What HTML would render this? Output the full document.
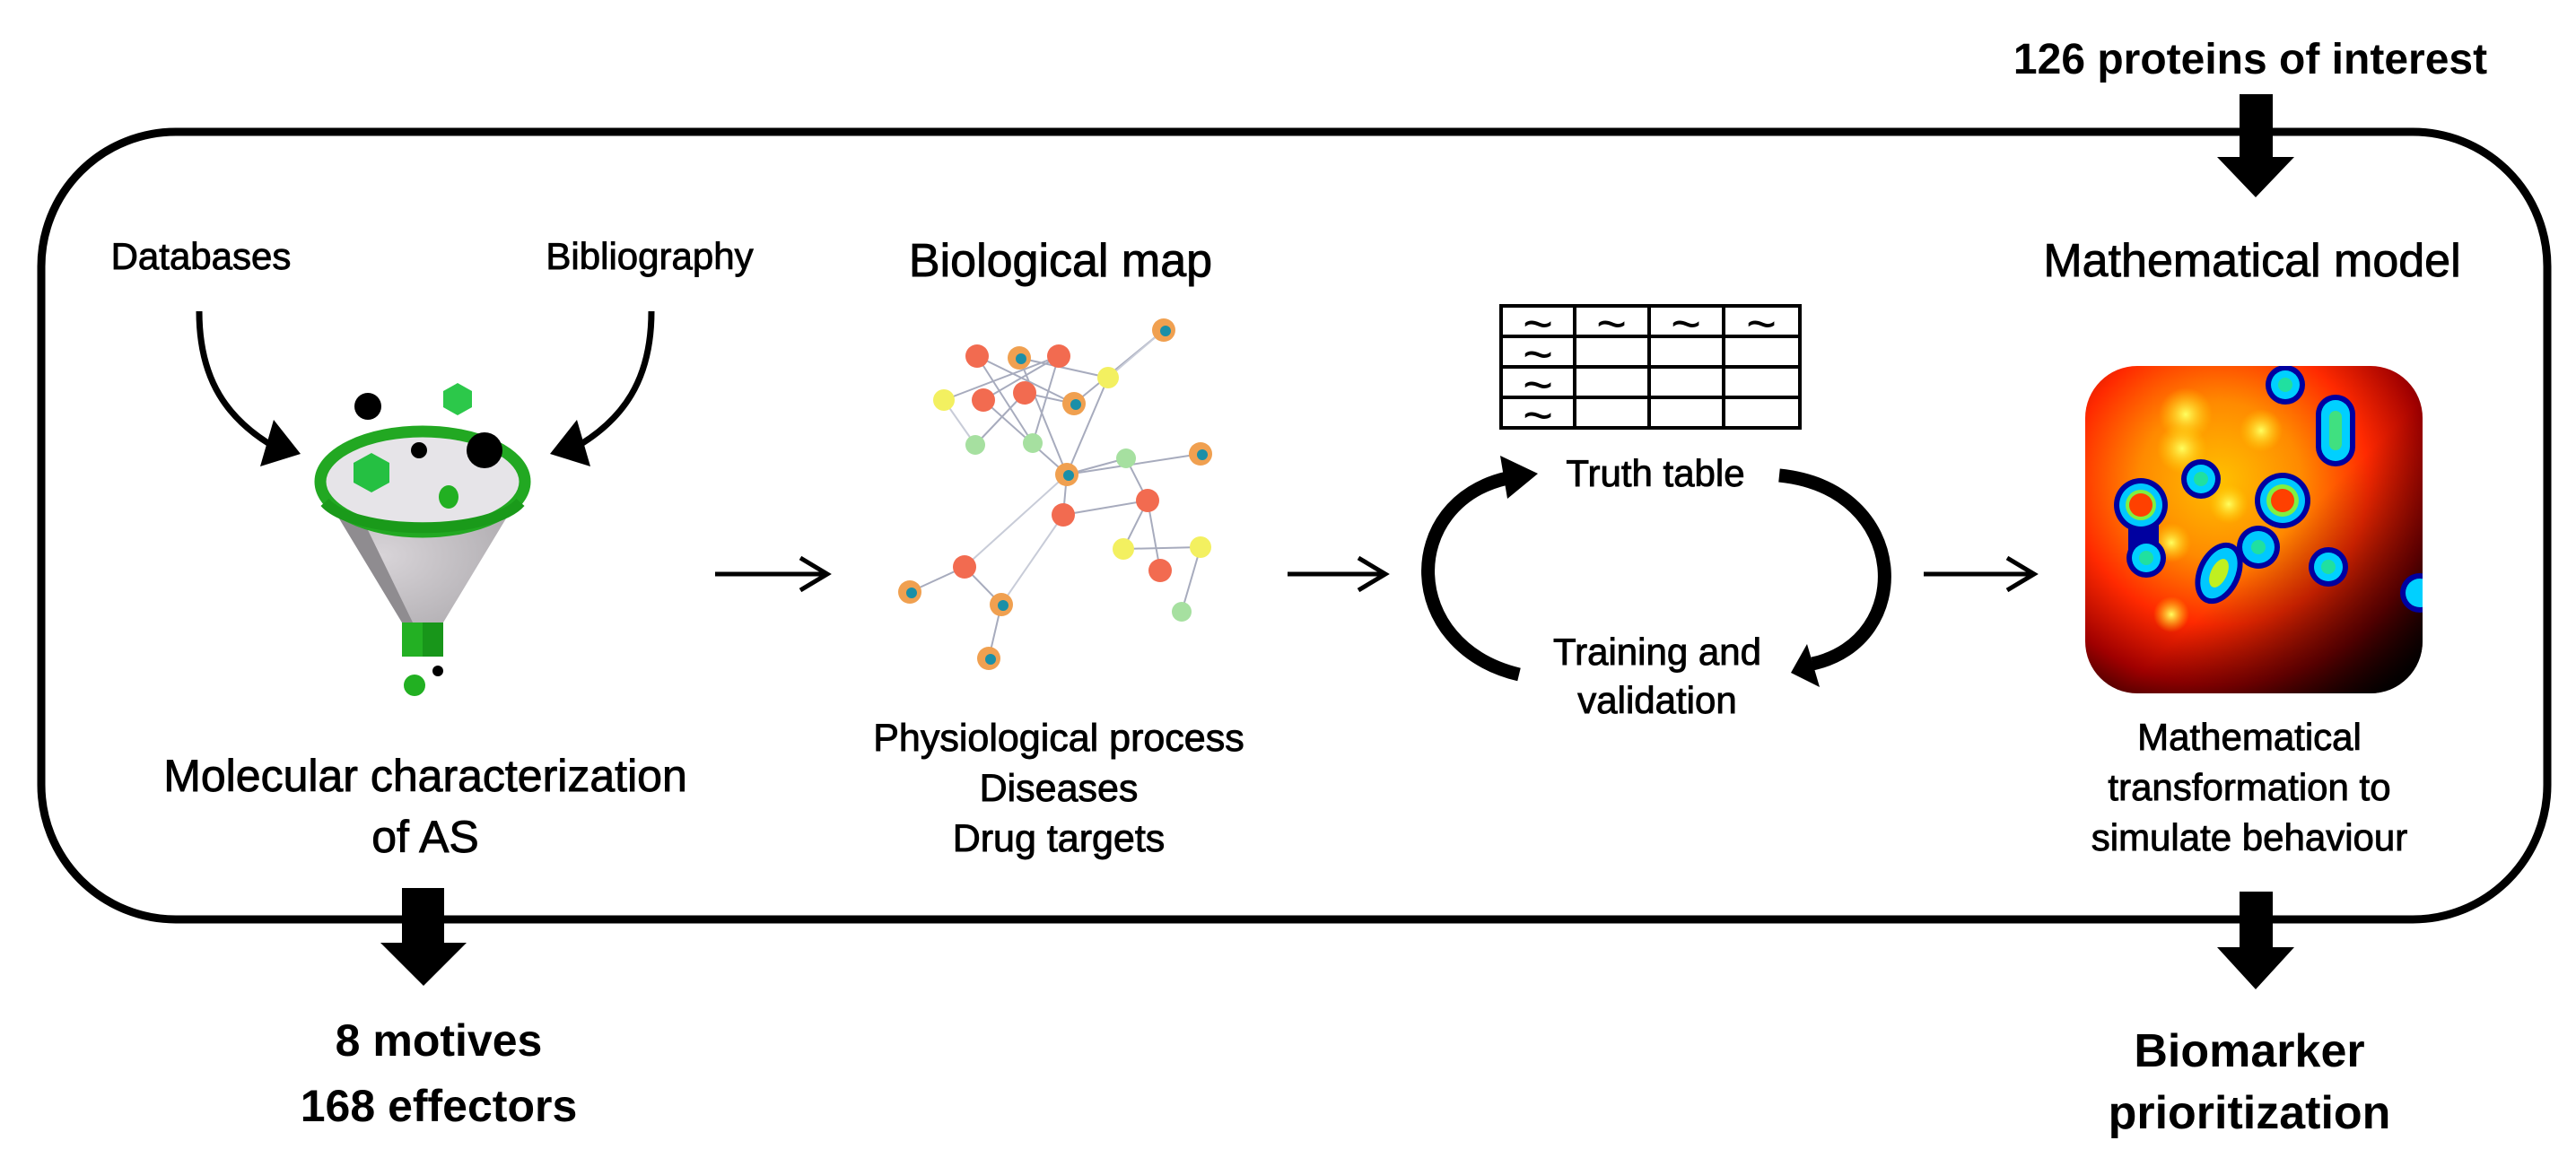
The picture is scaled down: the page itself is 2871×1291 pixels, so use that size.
<!DOCTYPE html>
<html><head><meta charset="utf-8"><style>
html,body{margin:0;padding:0;background:#fff;}
svg{display:block;}
text{font-family:"Liberation Sans",Arial,sans-serif;fill:#000;}
.r{stroke:#000;stroke-width:0.9;}
</style></head><body>
<svg width="2871" height="1291" viewBox="0 0 2871 1291" xmlns="http://www.w3.org/2000/svg">
<defs>
<radialGradient id="hm" cx="0.4" cy="0.35" r="0.8">
<stop offset="0" stop-color="#ffc000"/>
<stop offset="0.3" stop-color="#ff8a00"/>
<stop offset="0.55" stop-color="#ff2a00"/>
<stop offset="0.78" stop-color="#a00000"/>
<stop offset="1" stop-color="#100000"/>
</radialGradient>
<linearGradient id="dk" x1="0" y1="0" x2="1" y2="1">
<stop offset="0.55" stop-color="#000" stop-opacity="0"/>
<stop offset="1" stop-color="#000" stop-opacity="0.85"/>
</linearGradient>
<radialGradient id="yb"><stop offset="0" stop-color="#ffff60"/><stop offset="1" stop-color="#ffd000" stop-opacity="0"/></radialGradient>
<radialGradient id="cone" cx="0.3" cy="0.5" r="0.8"><stop offset="0" stop-color="#d8d4d8"/><stop offset="1" stop-color="#a9a6aa"/></radialGradient>
<clipPath id="hc"><rect x="2324" y="408" width="376" height="365" rx="58"/></clipPath>
</defs>

<rect x="46" y="147" width="2793" height="878" rx="150" fill="none" stroke="#000" stroke-width="9"/>

<text x="2508" y="82" font-size="48" font-weight="bold" text-anchor="middle">126 proteins of interest</text>
<polygon points="2496,105 2533,105 2533,175 2557,175 2514,220 2471,175 2496,175" fill="#000"/>

<text class="r" x="224" y="300" font-size="42" text-anchor="middle">Databases</text>
<text class="r" x="724" y="300" font-size="42" text-anchor="middle">Bibliography</text>
<text class="r" x="1182" y="308" font-size="52" text-anchor="middle">Biological map</text>
<text class="r" x="2510" y="308" font-size="52" text-anchor="middle">Mathematical model</text>

<path d="M222,347 C222,420 250,470 318,505" fill="none" stroke="#000" stroke-width="7"/>
<polygon points="305,468 335,506 290,520" fill="#000"/>
<path d="M726,347 C726,420 698,470 630,505" fill="none" stroke="#000" stroke-width="7"/>
<polygon points="643,468 613,506 658,520" fill="#000"/>

<path d="M358,545 L448,694 L494,694 L584,545 Z" fill="url(#cone)"/>
<path d="M358,545 L448,694 L460,694 L395,560 Z" fill="#8f8c90"/>
<ellipse cx="471" cy="537" rx="114" ry="56" fill="#e6e4e8" stroke="#22a822" stroke-width="13"/>
<path d="M362,560 A114,40 0 0 0 580,560" fill="none" stroke="#1a9a1a" stroke-width="12"/>
<rect x="448" y="694" width="46" height="38" fill="#23b023"/>
<rect x="471" y="694" width="23" height="38" fill="#18961a"/>
<circle cx="462" cy="764" r="12" fill="#22b022"/>
<circle cx="488" cy="748" r="6" fill="#000"/>
<circle cx="410" cy="453" r="15" fill="#000"/>
<polygon points="510,427 526,436 526,454 510,463 494,454 494,436" fill="#2cc84a"/>
<circle cx="467" cy="502" r="9" fill="#000"/>
<circle cx="540" cy="502" r="20" fill="#000"/>
<polygon points="414,505 434,516 434,538 414,549 394,538 394,516" fill="#25c042"/>
<ellipse cx="500" cy="554" rx="11" ry="13" fill="#22b022"/>

<text class="r" x="474" y="882" font-size="50" text-anchor="middle">Molecular characterization</text>
<text class="r" x="474" y="950" font-size="50" text-anchor="middle">of AS</text>

<g stroke="#000" stroke-width="5" fill="none">
<path d="M797,640 L922,640 M892,622 L922,640 L892,658"/>
<path d="M1435,640 L1544,640 M1514,622 L1544,640 L1514,658"/>
<path d="M2144,640 L2267,640 M2237,622 L2267,640 L2237,658"/>
</g>

<g stroke="#8a90a8" stroke-width="2" opacity="0.75">
<line x1="1089" y1="397" x2="1197" y2="450"/><line x1="1136" y1="399" x2="1189" y2="529"/>
<line x1="1180" y1="397" x2="1096" y2="446"/><line x1="1142" y1="438" x2="1197" y2="450"/>
<line x1="1096" y1="446" x2="1189" y2="529"/><line x1="1052" y1="446" x2="1180" y2="397"/>
<line x1="1087" y1="496" x2="1142" y2="438"/><line x1="1151" y1="494" x2="1180" y2="397"/>
<line x1="1189" y1="529" x2="1338" y2="506"/><line x1="1189" y1="529" x2="1185" y2="574"/>
<line x1="1185" y1="574" x2="1279" y2="558"/><line x1="1279" y1="558" x2="1252" y2="612"/>
<line x1="1252" y1="612" x2="1338" y2="610"/><line x1="1255" y1="511" x2="1279" y2="558"/>
<line x1="1014" y1="660" x2="1075" y2="632"/><line x1="1075" y1="632" x2="1116" y2="674"/>
<line x1="1116" y1="674" x2="1102" y2="734"/><line x1="1297" y1="368" x2="1197" y2="450"/>
<line x1="1235" y1="421" x2="1189" y2="529"/><line x1="1089" y1="397" x2="1151" y2="494"/>
<line x1="1136" y1="399" x2="1235" y2="421"/><line x1="1338" y1="610" x2="1317" y2="682"/>
<line x1="1279" y1="558" x2="1293" y2="636"/><line x1="1255" y1="511" x2="1189" y2="529"/>
</g>
<g stroke="#c8ccd8" stroke-width="2">
<line x1="1075" y1="632" x2="1189" y2="529"/><line x1="1116" y1="674" x2="1185" y2="574"/>
<line x1="1297" y1="368" x2="1235" y2="421"/><line x1="1052" y1="446" x2="1087" y2="496"/>
</g>
<g fill="#f26b50">
<circle cx="1089" cy="397" r="13"/><circle cx="1180" cy="397" r="13"/><circle cx="1096" cy="446" r="13"/>
<circle cx="1142" cy="438" r="13"/><circle cx="1185" cy="574" r="13"/><circle cx="1279" cy="558" r="13"/>
<circle cx="1075" cy="632" r="13"/><circle cx="1293" cy="636" r="13"/>
</g>
<g fill="#f3f060"><circle cx="1052" cy="446" r="12"/><circle cx="1235" cy="421" r="12"/><circle cx="1252" cy="612" r="12"/><circle cx="1338" cy="610" r="12"/></g>
<g fill="#a6e0a0"><circle cx="1087" cy="496" r="11"/><circle cx="1151" cy="494" r="11"/><circle cx="1255" cy="511" r="11"/><circle cx="1317" cy="682" r="11"/></g>
<g fill="#f0a050">
<circle cx="1297" cy="368" r="13"/><circle cx="1136" cy="399" r="13"/><circle cx="1197" cy="450" r="13"/>
<circle cx="1189" cy="529" r="13"/><circle cx="1338" cy="506" r="13"/><circle cx="1014" cy="660" r="13"/>
<circle cx="1116" cy="674" r="13"/><circle cx="1102" cy="734" r="13"/>
</g>
<g fill="#1a8fa8">
<circle cx="1299" cy="369" r="6"/><circle cx="1138" cy="400" r="6"/><circle cx="1199" cy="451" r="6"/>
<circle cx="1191" cy="530" r="6"/><circle cx="1340" cy="507" r="6"/><circle cx="1016" cy="661" r="6"/>
<circle cx="1118" cy="675" r="6"/><circle cx="1104" cy="735" r="6"/>
</g>

<text class="r" x="1180" y="837" font-size="43" text-anchor="middle">Physiological process</text>
<text class="r" x="1180" y="893" font-size="43" text-anchor="middle">Diseases</text>
<text class="r" x="1180" y="949" font-size="43" text-anchor="middle">Drug targets</text>

<g stroke="#000" stroke-width="4" fill="none">
<rect x="1673" y="341" width="333" height="136"/>
<line x1="1755" y1="341" x2="1755" y2="477"/><line x1="1838" y1="341" x2="1838" y2="477"/><line x1="1921" y1="341" x2="1921" y2="477"/>
<line x1="1673" y1="375" x2="2006" y2="375"/><line x1="1673" y1="409" x2="2006" y2="409"/><line x1="1673" y1="443" x2="2006" y2="443"/>
</g>
<g font-size="58" text-anchor="middle">
<text x="1714" y="381">~</text><text x="1796" y="381">~</text><text x="1879" y="381">~</text><text x="1963" y="381">~</text>
<text x="1714" y="415">~</text><text x="1714" y="449">~</text><text x="1714" y="483">~</text>
</g>
<text class="r" x="1845" y="542" font-size="42" text-anchor="middle">Truth table</text>
<text class="r" x="1847" y="741" font-size="42" text-anchor="middle">Training and</text>
<text class="r" x="1847" y="795" font-size="42" text-anchor="middle">validation</text>

<path d="M1693,752 C1560,720 1560,560 1680,533" fill="none" stroke="#000" stroke-width="15"/>
<polygon points="1672,508 1714,528 1680,556" fill="#000"/>
<path d="M1983,530 C2130,545 2135,715 2020,740" fill="none" stroke="#000" stroke-width="15"/>
<polygon points="2014,718 1996,750 2028,766" fill="#000"/>

<g clip-path="url(#hc)">
<rect x="2324" y="408" width="376" height="365" fill="url(#hm)"/>
<rect x="2324" y="408" width="376" height="365" fill="url(#dk)"/>
<circle cx="2436" cy="462" r="30" fill="url(#yb)"/>
<circle cx="2432" cy="500" r="28" fill="url(#yb)"/>
<circle cx="2520" cy="480" r="24" fill="url(#yb)"/>
<circle cx="2484" cy="562" r="22" fill="url(#yb)"/>
<circle cx="2420" cy="605" r="22" fill="url(#yb)"/>
<circle cx="2420" cy="685" r="20" fill="url(#yb)"/>
<g>
<circle cx="2547" cy="429" r="22" fill="#0000a0"/><circle cx="2547" cy="429" r="16" fill="#00d0ff"/><circle cx="2547" cy="429" r="8" fill="#20e0a0"/>
<rect x="2581" y="440" width="44" height="80" rx="22" fill="#0000a0"/><rect x="2587" y="446" width="32" height="68" rx="16" fill="#00d0ff"/><rect x="2596" y="458" width="14" height="44" rx="7" fill="#40e080"/>
<circle cx="2453" cy="534" r="22" fill="#0000a0"/><circle cx="2453" cy="534" r="16" fill="#00d0ff"/><circle cx="2453" cy="534" r="8" fill="#20e0a0"/>
<circle cx="2392" cy="622" r="22" fill="#0000a0"/><rect x="2372" y="565" width="34" height="57" fill="#0000a0"/>
<circle cx="2386" cy="563" r="30" fill="#0000a0"/><circle cx="2386" cy="563" r="24" fill="#00c8ff"/><circle cx="2386" cy="563" r="17" fill="#80f040"/><circle cx="2386" cy="563" r="13" fill="#ff4000"/>
<circle cx="2392" cy="622" r="16" fill="#00d0ff"/><circle cx="2392" cy="622" r="8" fill="#20e0a0"/>
<ellipse cx="2473" cy="639" rx="24" ry="36" transform="rotate(25 2473 639)" fill="#0000a0"/>
<circle cx="2517" cy="610" r="24" fill="#0000a0"/>
<circle cx="2544" cy="558" r="31" fill="#0000a0"/>
<ellipse cx="2473" cy="639" rx="18" ry="30" transform="rotate(25 2473 639)" fill="#00c8ff"/>
<circle cx="2517" cy="610" r="18" fill="#00c8ff"/>
<circle cx="2544" cy="558" r="25" fill="#00c8ff"/><circle cx="2544" cy="558" r="18" fill="#80f040"/><circle cx="2544" cy="558" r="13" fill="#ff4000"/>
<ellipse cx="2473" cy="639" rx="9" ry="17" transform="rotate(25 2473 639)" fill="#c0f020"/>
<circle cx="2517" cy="610" r="8" fill="#20e0a0"/>
<circle cx="2595" cy="632" r="22" fill="#0000a0"/><circle cx="2595" cy="632" r="16" fill="#00d0ff"/><circle cx="2595" cy="632" r="8" fill="#20e0a0"/>
<circle cx="2697" cy="661" r="22" fill="#0000a0"/><circle cx="2697" cy="661" r="16" fill="#00d0ff"/>
</g>
</g>

<text class="r" x="2507" y="836" font-size="42" text-anchor="middle">Mathematical</text>
<text class="r" x="2507" y="892" font-size="42" text-anchor="middle">transformation to</text>
<text class="r" x="2507" y="948" font-size="42" text-anchor="middle">simulate behaviour</text>

<polygon points="448,990 495,990 495,1051 520,1051 472,1099 424,1051 448,1051" fill="#000"/>
<polygon points="2496,994 2533,994 2533,1056 2557,1056 2514,1103 2471,1056 2496,1056" fill="#000"/>

<text x="489" y="1177" font-size="50" font-weight="bold" text-anchor="middle">8 motives</text>
<text x="489" y="1250" font-size="50" font-weight="bold" text-anchor="middle">168 effectors</text>
<text x="2507" y="1189" font-size="52" font-weight="bold" text-anchor="middle">Biomarker</text>
<text x="2507" y="1258" font-size="52" font-weight="bold" text-anchor="middle">prioritization</text>
</svg>
</body></html>
